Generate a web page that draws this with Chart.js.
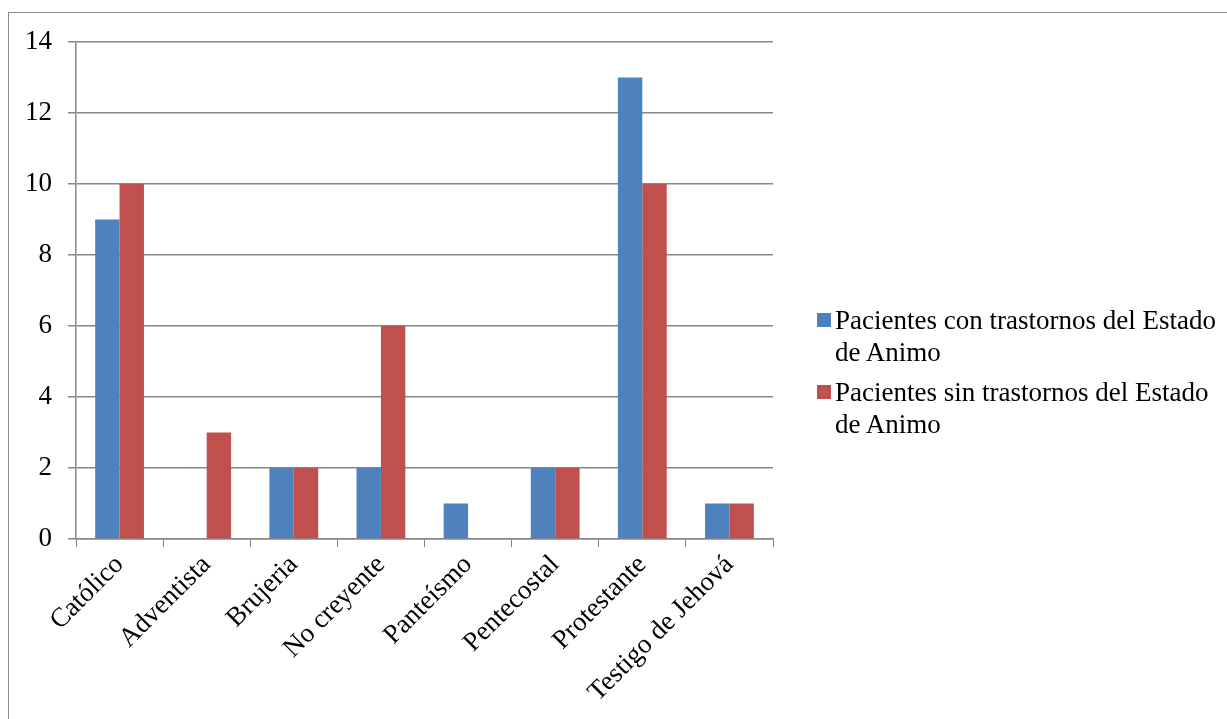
<!DOCTYPE html>
<html>
<head>
<meta charset="utf-8">
<script src="https://cdn.jsdelivr.net/npm/chart.js@4/dist/chart.umd.min.js"></script>
<style>
  html, body { margin: 0; padding: 0; background: #fff; overflow: hidden; }
  #wrap { position: relative; width: 1227px; height: 719px; }
  #frame { position: absolute; left: 8px; top: 12px; width: 1400px; height: 900px;
           border: 1px solid #8c8c8c; box-sizing: border-box; }
  canvas { position: absolute; left: 0; top: 0; }
  #legend { position: absolute; left: 817px; top: 304px;
            font-family: 'Liberation Serif', 'Times New Roman', serif; font-size: 27px;
            line-height: 32px; color: #000; }
  #legend .item { display: flex; align-items: flex-start; margin-bottom: 8px; white-space: nowrap; }
  #legend .box { width: 14px; height: 14px; margin-top: 9px; margin-right: 4px; flex: none; }
</style>
</head>
<body>
<div id="wrap">
  <div id="frame"></div>
  <canvas id="chart" width="1227" height="719"></canvas>
  <div id="legend"></div>
</div>
<script>
// Religión de los pacientes
const categories = ['Católico', 'Adventista', 'Brujeria', 'No creyente', 'Panteísmo', 'Pentecostal', 'Protestante', 'Testigo de Jehová'];
const conTrastornos = [9, 0, 2, 2, 1, 2, 13, 1];
const sinTrastornos = [10, 3, 2, 6, 0, 2, 10, 1];
const seriesLabels = [
  ['Pacientes con trastornos del Estado', 'de Animo'],
  ['Pacientes sin trastornos del Estado', 'de Animo']
];
const yTicks = [0, 2, 4, 6, 8, 10, 12, 14];

const FONT = "'Liberation Serif', 'Times New Roman', serif";
const GRID = '#878787';

const chart = new Chart(document.getElementById('chart'), {
  type: 'bar',
  data: {
    labels: categories,
    datasets: [
      { label: seriesLabels[0].join(' '), data: conTrastornos, backgroundColor: '#4f81bd', borderWidth: 0 },
      { label: seriesLabels[1].join(' '), data: sinTrastornos, backgroundColor: '#c0504d', borderWidth: 0 }
    ]
  },
  options: {
    responsive: false,
    animation: false,
    devicePixelRatio: 1,
    layout: { padding: { top: 42, left: 20, right: 454, bottom: 0 } },
    datasets: { bar: { categoryPercentage: 0.56, barPercentage: 1 } },
    plugins: {
      tooltip: { enabled: false },
      legend: { display: false }
    },
    scales: {
      x: {
        grid: { drawOnChartArea: false, drawTicks: true, tickLength: 8, color: GRID, offset: true },
        border: { color: GRID, width: 1.5 },
        ticks: {
          color: '#000',
          font: { family: FONT, size: 27 },
          minRotation: 45,
          maxRotation: 45,
          padding: 2
        },
        afterFit: s => { s.height = 180; }
      },
      y: {
        min: 0,
        max: yTicks[yTicks.length - 1],
        afterBuildTicks: s => { s.ticks = yTicks.map(v => ({ value: v })); },
        grid: { color: GRID, lineWidth: 1.5, tickLength: 8 },
        border: { color: GRID, width: 1.5 },
        ticks: {
          color: '#000',
          font: { family: FONT, size: 27 },
          padding: 16
        },
        afterFit: s => { s.width = 56; }
      }
    }
  }
});

// legend built from the chart's datasets
const legendEl = document.getElementById('legend');
chart.data.datasets.forEach((ds, i) => {
  const item = document.createElement('div');
  item.className = 'item';
  const box = document.createElement('span');
  box.className = 'box';
  box.style.background = ds.backgroundColor;
  const text = document.createElement('span');
  text.innerHTML = seriesLabels[i].join('<br>');
  item.appendChild(box);
  item.appendChild(text);
  legendEl.appendChild(item);
});
</script>
</body>
</html>
